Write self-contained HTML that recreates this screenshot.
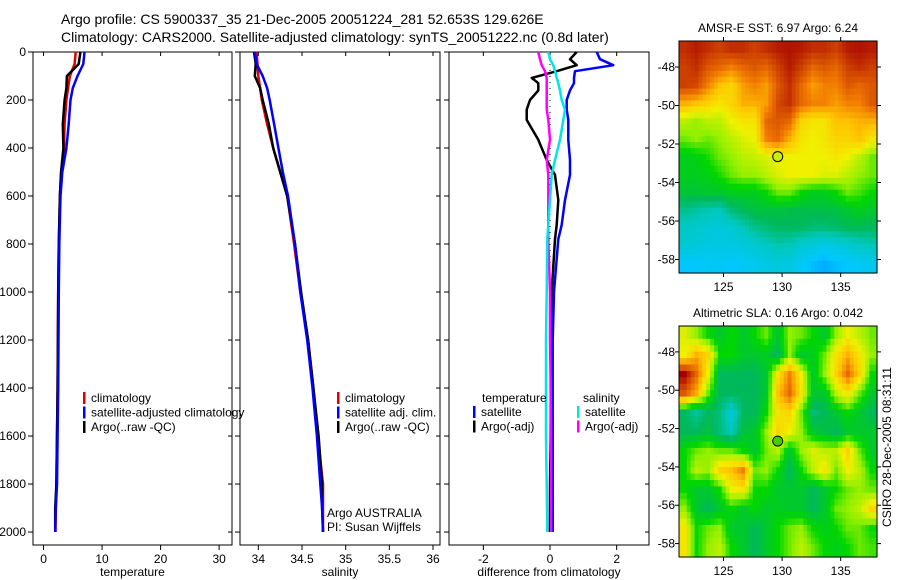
<!DOCTYPE html>
<html><head><meta charset="utf-8"><style>
body{margin:0;background:#fff;}
svg{display:block;font-family:"Liberation Sans",sans-serif;}
</style></head><body>
<svg id="c" width="900" height="580" viewBox="0 0 900 580">
<text x="61" y="24" font-size="14">Argo profile: CS 5900337_35 21-Dec-2005 20051224_281 52.653S 129.626E</text>
<text x="61" y="42" font-size="14">Climatology: CARS2000. Satellite-adjusted climatology: synTS_20051222.nc (0.8d later)</text>
</svg>
<script>
const depths=[0,50,100,150,200,300,400,500,600,800,1000,1200,1400,1600,1800,1900,2000];
const tClim=[5.5,5.3,4.5,4.2,3.9,3.6,3.5,3.0,2.8,2.6,2.5,2.45,2.4,2.3,2.2,2.1,2.05];
const tSat=[7.0,6.8,5.8,5.0,4.6,4.3,3.9,3.2,2.9,2.7,2.6,2.55,2.5,2.4,2.3,2.1,2.0];
const tArgo=[6.3,6.0,4.0,3.9,3.6,3.3,3.4,3.0,2.8,2.6,2.5,2.45,2.4,2.3,2.2,2.0,2.0];
const sClim=[33.98,33.99,34.0,34.02,34.04,34.1,34.17,34.25,34.33,34.41,34.48,34.57,34.63,34.68,34.74,34.74,34.74];
const sSat=[33.96,33.98,34.05,34.1,34.13,34.18,34.23,34.28,34.34,34.42,34.48,34.56,34.62,34.67,34.71,34.73,34.74];
const sArgo=[33.95,33.97,33.96,34.02,34.05,34.12,34.17,34.25,34.33,34.42,34.49,34.57,34.63,34.69,34.73,34.73,34.74];
const dDepth=[0,30,55,80,108,130,160,200,240,283,366,450,512,617,720,780,1000,1200,1400,1600,1800,2000];
const dTsat=[1.4,1.5,1.9,0.75,0.72,0.72,0.6,0.5,0.5,0.55,0.55,0.6,0.6,0.45,0.35,0.25,0.12,0.08,0.08,0.08,0.08,0.08];
const dTargo=[0.8,0.6,0.8,0.2,-0.55,-0.35,-0.35,-0.6,-0.7,-0.7,-0.35,-0.1,0.15,0.25,0.2,0.15,0.05,0.03,0.02,0.02,0.0,0.0];
const dSsat=[-0.05,0.0,0.1,0.15,0.2,0.25,0.3,0.35,0.45,0.4,0.3,0.15,0.05,0.0,-0.05,-0.08,-0.1,-0.12,-0.12,-0.12,-0.1,-0.08];
const dSargo=[-0.35,-0.3,-0.25,-0.15,-0.1,-0.1,-0.1,-0.1,-0.1,-0.05,0.0,-0.1,-0.05,-0.05,-0.05,-0.05,0.0,0.0,0.02,0.03,0.03,0.03];
const depthTicks=[0,200,400,600,800,1000,1200,1400,1600,1800,2000];
const tTicks=[0,10,20,30];
const sTicks=[34,34.5,35,35.5,36];
const sTickLabels=["34","34.5","35","35.5","36"];
const dTicks=[-2,0,2];
const lonTicks=[125,130,135];
const latTicks=[-48,-50,-52,-54,-56,-58];
const sstGrid=[
[0.95,0.97,0.95,0.93,0.95,0.95,0.93,0.95,0.97,0.98,0.97,0.95,0.95,0.93,0.97,0.98,0.97],
[0.93,0.95,0.9,0.88,0.85,0.88,0.9,0.88,0.93,0.97,0.93,0.88,0.9,0.88,0.93,0.95,0.93],
[0.93,0.92,0.85,0.78,0.75,0.82,0.85,0.82,0.9,0.95,0.88,0.82,0.85,0.85,0.9,0.88,0.9],
[0.8,0.78,0.75,0.72,0.75,0.8,0.8,0.82,0.92,0.95,0.88,0.85,0.85,0.82,0.85,0.85,0.9],
[0.65,0.62,0.65,0.65,0.7,0.72,0.72,0.88,0.9,0.88,0.75,0.72,0.72,0.78,0.78,0.8,0.8],
[0.6,0.62,0.6,0.62,0.65,0.68,0.7,0.85,0.88,0.8,0.72,0.7,0.72,0.75,0.75,0.78,0.72],
[0.52,0.53,0.56,0.6,0.62,0.65,0.66,0.68,0.7,0.7,0.7,0.7,0.7,0.72,0.7,0.65,0.6],
[0.52,0.52,0.53,0.56,0.6,0.62,0.62,0.65,0.68,0.7,0.7,0.7,0.68,0.68,0.65,0.62,0.6],
[0.49,0.49,0.5,0.5,0.52,0.52,0.52,0.55,0.6,0.6,0.55,0.52,0.52,0.55,0.6,0.58,0.55],
[0.4,0.38,0.36,0.35,0.42,0.45,0.48,0.48,0.48,0.47,0.47,0.47,0.47,0.48,0.5,0.52,0.5],
[0.33,0.32,0.3,0.28,0.3,0.35,0.4,0.42,0.44,0.44,0.44,0.42,0.42,0.43,0.45,0.45,0.44],
[0.3,0.28,0.27,0.27,0.27,0.28,0.3,0.33,0.36,0.35,0.3,0.28,0.25,0.27,0.3,0.33,0.35],
[0.2,0.2,0.22,0.22,0.2,0.22,0.24,0.26,0.28,0.27,0.22,0.18,0.15,0.18,0.2,0.22,0.24]];
const slaGrid=[
[0.68,0.62,0.55,0.5,0.55,0.5,0.55,0.6,0.5,0.62,0.6,0.55,0.5,0.62,0.7,0.65,0.6],
[0.7,0.8,0.75,0.55,0.55,0.5,0.5,0.52,0.45,0.62,0.5,0.52,0.6,0.72,0.8,0.72,0.62],
[1.0,0.88,0.7,0.45,0.45,0.45,0.45,0.5,0.72,0.85,0.7,0.5,0.62,0.75,0.88,0.75,0.55],
[0.9,0.8,0.6,0.45,0.45,0.45,0.45,0.5,0.78,0.88,0.72,0.5,0.5,0.65,0.72,0.6,0.5],
[0.45,0.38,0.45,0.42,0.3,0.45,0.45,0.55,0.72,0.75,0.6,0.42,0.45,0.5,0.55,0.5,0.45],
[0.45,0.45,0.48,0.42,0.35,0.48,0.5,0.62,0.75,0.7,0.62,0.5,0.48,0.45,0.5,0.5,0.5],
[0.55,0.6,0.62,0.6,0.6,0.55,0.5,0.6,0.65,0.5,0.62,0.68,0.65,0.65,0.75,0.6,0.5],
[0.55,0.65,0.62,0.75,0.78,0.85,0.6,0.62,0.55,0.45,0.55,0.65,0.72,0.6,0.7,0.65,0.55],
[0.55,0.5,0.5,0.55,0.7,0.72,0.55,0.55,0.5,0.5,0.5,0.45,0.5,0.55,0.6,0.62,0.6],
[0.62,0.5,0.45,0.5,0.55,0.5,0.55,0.5,0.52,0.5,0.5,0.45,0.5,0.6,0.62,0.65,0.75],
[0.72,0.55,0.6,0.62,0.5,0.5,0.45,0.5,0.55,0.6,0.62,0.55,0.52,0.55,0.6,0.6,0.55],
[0.72,0.55,0.62,0.65,0.55,0.5,0.45,0.5,0.55,0.6,0.65,0.6,0.55,0.52,0.55,0.6,0.58]];
const argoLon=129.626, argoLat=-52.653;

const svg=document.getElementById('c');
const NS='http://www.w3.org/2000/svg';
function mk(tag,attrs,parent){const e=document.createElementNS(NS,tag);for(const k in attrs)e.setAttribute(k,attrs[k]);(parent||svg).appendChild(e);return e;}
function txt(x,y,s,size,anchor,parent){const t=mk('text',{x:x,y:y,'font-size':size||12,'text-anchor':anchor||'start'},parent);t.textContent=s;return t;}

const yTop=52,yBot=545,dMax=2054;
const yD=d=>yTop+d/dMax*(yBot-yTop);
function lin(d0,d1,r0,r1){return v=>r0+(v-d0)/(d1-d0)*(r1-r0);}

function panel(name,x0,x1,xmin,xmax,ticks,labels,xlabel,yLabels){
  const g=mk('g',{});
  
  
  const fx=lin(xmin,xmax,x0,x1);
  mk('rect',{x:x0,y:yTop,width:x1-x0,height:yBot-yTop,fill:'none',stroke:'#000','stroke-width':1},g);
  ticks.forEach((t,i)=>{const x=fx(t);
    mk('line',{x1:x,x2:x,y1:yBot,y2:yBot+5,stroke:'#000'},g);
    mk('line',{x1:x,x2:x,y1:yTop,y2:yTop+4,stroke:'#000'},g);
    const l=txt(x,yBot+18,labels[i],12,'middle',g);
    
    
  });
  depthTicks.forEach(d=>{const y=yD(d);
    mk('line',{x1:x0-5,x2:x0,y1:y,y2:y,stroke:'#000'},g);
    mk('line',{x1:x1-4,x2:x1,y1:y,y2:y,stroke:'#000'},g);
    if(yLabels){const l=txt(x0-7,y+4,String(d),12,'end',g);
      
      }
  });
  const xl=txt((x0+x1)/2,yBot+31,xlabel,12,'middle',g);
  
  
  return {g,fx};
}
function series(p,ds,vals,color,name,w){
  const pts=vals.map((v,i)=>p.fx(v).toFixed(1)+','+yD(ds[i]).toFixed(1)).join(' ');
  const l=mk('polyline',{points:pts,fill:'none',stroke:color,'stroke-width':w||2.5,'stroke-linejoin':'round'},p.g);
  
  
}
function legend(g,x,y,items){
  items.forEach((it,i)=>{const yy=y+i*14.5;
    mk('rect',{x:x,y:yy-10,width:2.5,height:12,fill:it[1]},g);
    const t=txt(x+8,yy,it[0],12,'start',g);
    
    
  });
}

const p1=panel('temperature-panel',33,232,-1.8,32.2,tTicks,tTicks.map(String),'temperature',true);
series(p1,depths,tClim,'#e00000','temp-climatology-line');
series(p1,depths,tArgo,'#000','temp-argo-line');
series(p1,depths,tSat,'#0000ff','temp-satellite-line');
legend(p1.g,83,402,[['climatology','#e00000'],['satellite-adjusted climatology','#0000ff'],['Argo(..raw -QC)','#000']]);

const p2=panel('salinity-panel',240,440,33.79,36.08,sTicks,sTickLabels,'salinity',false);
series(p2,depths,sClim,'#e00000','sal-climatology-line');
series(p2,depths,sArgo,'#000','sal-argo-line');
series(p2,depths,sSat,'#0000ff','sal-satellite-line');
legend(p2.g,337,402,[['climatology','#e00000'],['satellite adj. clim.','#0000ff'],['Argo(..raw -QC)','#000']]);
const a1=txt(327,517,'Argo AUSTRALIA',12,'start',p2.g);


const a2=txt(327,531,'PI: Susan Wijffels',12,'start',p2.g);



const p3=panel('difference-panel',449,649,-3.03,2.97,dTicks,dTicks.map(String),'difference from climatology',false);
mk('line',{x1:p3.fx(0),x2:p3.fx(0),y1:yD(0),y2:yD(2000),stroke:'#000','stroke-dasharray':'1,5'},p3.g);
series(p3,dDepth,dTargo,'#000','diff-temp-argo-line');
series(p3,dDepth,dTsat,'#0000ff','diff-temp-satellite-line');
series(p3,dDepth,dSargo,'#ff00ff','diff-sal-argo-line');
series(p3,dDepth,dSsat,'#00e5e5','diff-sal-satellite-line');
const lt=txt(482,402,'temperature',12,'start',p3.g);


const ls=txt(583,402,'salinity',12,'start',p3.g);


legend(p3.g,473,416,[['satellite','#0000ff'],['Argo(-adj)','#000']]);
legend(p3.g,577,416,[['satellite','#00e5e5'],['Argo(-adj)','#ff00ff']]);

const stops=[[0,[0,90,255]],[0.2,[0,200,255]],[0.35,[0,200,190]],[0.45,[0,185,90]],[0.55,[0,215,0]],[0.62,[150,240,0]],[0.7,[240,240,0]],[0.78,[255,195,0]],[0.86,[240,120,0]],[0.93,[205,65,0]],[1,[165,0,0]]];
function cmap(v){v=Math.max(0,Math.min(1,v));for(let i=1;i<stops.length;i++){if(v<=stops[i][0]){const a=stops[i-1],b=stops[i],f=(v-a[0])/(b[0]-a[0]);return 'rgb('+a[1].map((c,k)=>Math.round(c+(b[1][k]-c)*f)).join(',')+')';}}return 'rgb(165,0,0)';}
function sample(grid,u,v){ // bilinear in cell-centre coords
  const R=grid.length,C=grid[0].length;
  u=Math.max(0,Math.min(C-1,u));v=Math.max(0,Math.min(R-1,v));
  const c0=Math.floor(u),r0=Math.floor(v),c1=Math.min(C-1,c0+1),r1=Math.min(R-1,r0+1);
  const fu=u-c0,fv=v-r0;
  return grid[r0][c0]*(1-fu)*(1-fv)+grid[r0][c1]*fu*(1-fv)+grid[r1][c0]*(1-fu)*fv+grid[r1][c1]*fu*fv;
}

function map(name,x0,x1,y0,y1,grid,title,titleY,dotColor){
  const g=mk('g',{});
  
  
  const lonMin=121.2,lonMax=138.1,latMax=-46.65,latMin=-58.7;
  const fx=lin(lonMin,lonMax,x0,x1), fy=lin(latMax,latMin,y0,y1);
  const rows=grid.length, cols=grid[0].length, S=3;
  const cw=(x1-x0)/(cols*S), ch=(y1-y0)/(rows*S);
  for(let r=0;r<rows*S;r++)for(let c=0;c<cols*S;c++){
    const v=sample(grid,(c+0.5)/S-0.5,(r+0.5)/S-0.5);
    const cell=mk('rect',{x:(x0+c*cw).toFixed(2),y:(y0+r*ch).toFixed(2),width:(cw+0.6).toFixed(2),height:(ch+0.6).toFixed(2),fill:cmap(v)},g);
    
    
  }
  mk('rect',{x:x0,y:y0,width:x1-x0,height:y1-y0,fill:'none',stroke:'#000'},g);
  lonTicks.forEach(t=>{const x=fx(t);
    mk('line',{x1:x,x2:x,y1:y0-4,y2:y0,stroke:'#000'},g);
    mk('line',{x1:x,x2:x,y1:y1,y2:y1+4,stroke:'#000'},g);
    const l=txt(x,y1+18,String(t),12,'middle',g);
    
    });
  latTicks.forEach(t=>{const y=fy(t);
    mk('line',{x1:x0-4,x2:x0,y1:y,y2:y,stroke:'#000'},g);
    mk('line',{x1:x1,x2:x1+4,y1:y,y2:y,stroke:'#000'},g);
    const l=txt(x0-4,y+4,String(t),12,'end',g);
    
    });
  const tt=txt((x0+x1)/2,titleY,title,12,'middle',g);
  
  
  const d=mk('circle',{cx:fx(argoLon),cy:fy(argoLat),r:5,fill:dotColor,stroke:'#000'},g);
  
  
}
map('sst-map',679,877,41,273,sstGrid,'AMSR-E SST: 6.97 Argo: 6.24',32,'#c8f000');
map('sla-map',679,877,326,557,slaGrid,'Altimetric SLA: 0.16 Argo: 0.042',317,'#40d000');
const cs=txt(0,0,'CSIRO 28-Dec-2005 08:31:11',12,'middle');
cs.setAttribute('transform','translate(891,447) rotate(-90)');


</script>
</body></html>
